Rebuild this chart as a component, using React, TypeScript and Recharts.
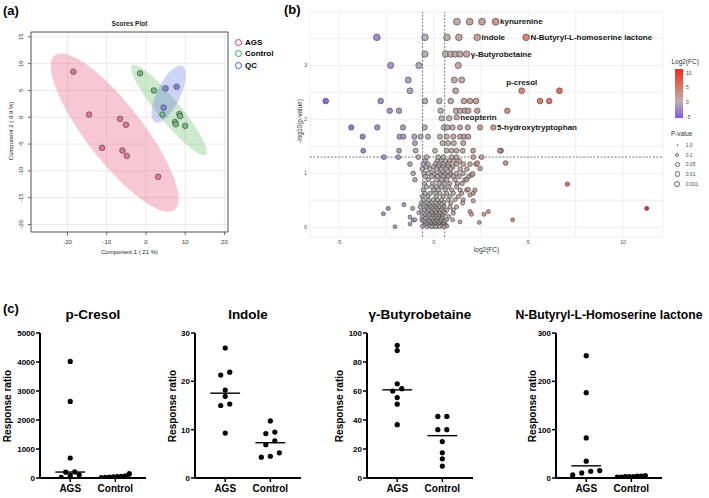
import React from 'react';
import {
  ScatterChart,
  Scatter,
  XAxis,
  YAxis,
  CartesianGrid,
  ReferenceLine,
  ReferenceArea,
} from 'recharts';

const FONT = '"Liberation Sans", Arial, Helvetica, sans-serif';

// ---------- (a) scores plot ----------
const agsScores = [[-18.5, 8.5], [-14.5, 0.5], [-6.6, -0.3], [-5.1, -1.4], [-11.2, -5.7], [-6.0, -6.2], [-4.9, -7.2], [3.1, -11.1]];
const controlScores = [[-1.5, 8.2], [2.0, 5.0], [4.2, 0.5], [8.5, 0.6], [8.7, 0.2], [7.4, -0.9], [7.6, -1.3], [10.0, -1.6]];
const qcScores = [[5.0, 5.4], [7.8, 5.7], [4.5, 1.8]];
const scoreGroups = ['AGS', 'Control', 'QC'];

// ---------- (b) volcano plot ----------
const labelNames = ['kynurenine', 'Indole', 'N-Butyryl-L-homoserine lactone', 'γ-Butyrobetaine', 'p-cresol', 'neopterin', '5-hydroxytryptophan'];
const labelFC = [3.27, 2.3, 4.88, 1.74, 4.65, 1.21, 3.15];
const labelLogP = [3.81, 3.52, 3.52, 3.21, 2.53, 2.04, 1.85];

const volcanoUpper = [
  [1.23, 3.81], [1.9, 3.81], [2.55, 3.81],
  [-3.0, 3.52], [-0.46, 3.52], [0.7, 3.52], [1.33, 3.52],
  [-0.46, 3.21], [0.63, 3.21], [0.9, 3.21], [1.14, 3.21], [1.39, 3.21],
  [-2.27, 3.0], [-0.78, 3.0], [1.3, 3.0],
  [-1.34, 2.73], [1.09, 2.73], [1.48, 2.73],
  [-1.25, 2.53], [1.16, 2.53], [6.64, 2.53],
  [-5.7, 2.34], [-2.8, 2.34], [-0.46, 2.34], [0.3, 2.34], [0.9, 2.34], [1.6, 2.34], [1.92, 2.34], [2.24, 2.34], [5.62, 2.34], [6.1, 2.34],
  [-2.32, 2.16], [-1.83, 2.16], [0.37, 2.16], [1.18, 2.16], [1.4, 2.16], [1.65, 2.16], [1.83, 2.16], [2.3, 2.16], [3.89, 2.16],
  [0.42, 2.02], [0.82, 2.02],
  [-4.35, 1.85], [-2.98, 1.85], [-1.62, 1.85], [-0.47, 1.85], [0.54, 1.85], [0.72, 1.85], [1.0, 1.85], [1.39, 1.85], [1.8, 1.85], [2.45, 1.85],
  [-3.75, 1.68], [-1.8, 1.68], [-1.6, 1.68], [-1.02, 1.68], [-0.69, 1.68], [-0.3, 1.68], [0.33, 1.68], [0.69, 1.68], [1.04, 1.68], [1.39, 1.68], [1.6, 1.68], [1.83, 1.68],
  [-0.99, 1.56], [0.47, 1.56], [0.77, 1.56], [1.07, 1.56], [1.56, 1.56],
  [-3.72, 1.42], [-1.83, 1.42], [-0.95, 1.42], [0.07, 1.42], [0.69, 1.42], [0.95, 1.42], [1.21, 1.42], [1.53, 1.42], [2.08, 1.42], [3.5, 1.42],
  [-2.63, 1.3], [-1.87, 1.3], [-0.81, 1.3], [-0.37, 1.3], [0.24, 1.3], [0.51, 1.3], [0.95, 1.3], [1.21, 1.3], [2.09, 1.3], [2.53, 1.3],
];

const volcanoLeft = [
  [-2.4, 0.35], [-2.66, 0.25], [-1.57, 0.42], [-1.11, 0.35], [-2.04, 0.01], [-1.25, 0.19], [-1.08, 0.13],
  [-1.25, 0.06], [-0.99, 0.14], [-0.78, 0.27], [-1.08, 1.0], [-1.25, 1.17], [-0.99, 0.88],
];

const volcanoRight = [
  [2.09, 0.49], [1.92, 0.29], [2.0, 0.24], [2.66, 0.24], [2.89, 0.29], [1.39, 0.1], [2.41, 0.09], [4.17, 0.14],
  [7.06, 0.8], [11.25, 0.35], [1.74, 0.69], [1.92, 0.6], [1.3, 0.57], [1.83, 0.7], [1.74, 0.88], [2.0, 0.97],
  [2.3, 1.19], [2.45, 1.09], [3.56, 1.42], [3.8, 1.19], [2.18, 0.69], [2.06, 0.99],
];

// rows of the dense core: [-log10 p, fold changes]
const volcanoCore: [number, number[]][] = [
  [1.23, [-0.45, 0.2, 0.4, 0.62, 0.85, 1.05, 1.35]],
  [1.17, [-0.55, -0.3, 0.1, 0.3, 0.51, 0.77, 1.21, 1.56, 1.92, 2.24]],
  [1.12, [-0.4, 0.0, 0.25, 0.5, 0.75, 1.0]],
  [1.08, [-0.6, -0.2, 0.15, 0.4, 0.65, 0.9, 1.4, 1.75]],
  [1.0, [-0.51, -0.28, 0.0, 0.33, 0.6, 0.9, 1.21, 1.56]],
  [0.97, [0.05, 0.38, 0.62, 0.85]],
  [0.94, [-0.45, -0.1, 0.2, 0.5, 0.75, 1.05, 1.35, 1.85]],
  [0.88, [-0.28, 0.16, 0.42, 0.69, 1.12, 1.65]],
  [0.81, [-0.5, -0.05, 0.3, 0.55, 0.85, 1.25, 1.5]],
  [0.75, [-0.37, -0.1, 0.16, 0.42, 0.77, 1.21]],
  [0.69, [-0.55, 0.0, 0.25, 0.6, 0.95, 1.4]],
  [0.63, [-0.46, -0.19, 0.07, 0.33, 0.69, 1.04, 1.48, 2.09]],
  [0.57, [-0.6, -0.3, 0.15, 0.5, 0.85]],
  [0.51, [-0.55, -0.28, -0.02, 0.2, 0.42, 0.77, 1.12, 1.56]],
  [0.45, [-0.65, -0.35, -0.1, 0.1, 0.3, 0.55, 0.9, 1.53]],
  [0.42, [-0.5, -0.2, 0.2, 0.42]],
  [0.38, [-0.72, -0.4, -0.16, 0.07, 0.3, 0.55, 0.86, 1.21]],
  [0.35, [-0.3, -0.05, 0.15, 0.45]],
  [0.32, [-0.5, -0.25, 0.0, 0.2, 0.4, 0.7, 1.04]],
  [0.29, [-0.65, -0.12, 0.1, 0.3, 0.52]],
  [0.26, [-0.37, -0.1, 0.13, 0.33, 0.6, 1.04]],
  [0.23, [-0.45, -0.2, 0.0, 0.22, 0.45]],
  [0.2, [-0.6, -0.3, -0.05, 0.1, 0.28, 0.48, 0.8]],
  [0.17, [-0.42, -0.15, 0.05, 0.22, 0.45]],
  [0.14, [-0.63, -0.28, -0.05, 0.16, 0.37, 0.69, 1.0]],
  [0.11, [-0.55, -0.3, -0.08, 0.12, 0.35, 0.58]],
  [0.09, [-0.45, -0.18, 0.05, 0.25, 0.5]],
  [0.06, [-0.38, -0.12, 0.08, 0.3, 0.52]],
  [0.04, [-0.51, -0.23, -0.02, 0.2, 0.42, 0.65]],
  [0.02, [-0.6, -0.2, 0.0, 0.2, 0.42, 0.7]],
  [0.01, [-0.35, -0.1, 0.1, 0.3, 0.55]],
];

const fcTicks = [-5, -2.5, 0, 2.5, 5, 7.5, 10];
const logPTicks = [0, 0.5, 1, 1.5, 2, 2.5, 3, 3.5];
const fcThreshold = Math.log2(1.5);
const pThreshold = -Math.log10(0.05);

// ---------- (c) dot plots ----------
const groups = ['AGS', 'Control'];
const cresolAGS = [4020, 2640, 690, 210, 200, 110, 90, 20];
const cresolControl = [150, 75, 60, 50, 40, 30, 20, 15];
const indoleAGS = [26.9, 21.9, 21.3, 18.2, 16.9, 15.3, 15.0, 9.3];
const indoleControl = [11.8, 9.5, 9.2, 7.7, 6.9, 5.2, 4.3, 4.5];
const butyroAGS = [91.5, 87.9, 65, 61.6, 60, 55.5, 50.9, 36.8];
const butyroControl = [42.5, 42.5, 33.3, 33.3, 25.1, 17.4, 13.2, 8.2];
const lactoneAGS = [253, 176.5, 83, 34.9, 15.4, 14, 10.5, 6.3];
const lactoneControl = [5, 4, 4, 3, 3, 3, 2, 2];

// ---------- helpers ----------
const Txt = ({ x, y, size, bold, align = 'center', rotate, color = '#000', children }: any) => {
  const tx = align === 'center' ? '-50%' : align === 'right' ? '-100%' : '0';
  return (
    <div
      style={{
        position: 'absolute',
        left: x,
        top: y,
        transform: `translate(${tx}, -50%)${rotate ? ` rotate(${rotate}deg)` : ''}`,
        fontSize: size,
        fontWeight: bold ? 700 : 400,
        color,
        whiteSpace: 'nowrap',
        lineHeight: 1,
      }}
    >
      {children}
    </div>
  );
};

// 95% confidence ellipse of a group of score points
function ellipse(pts: number[][], n = 80) {
  const m = pts.length;
  const mx = pts.reduce((s, p) => s + p[0], 0) / m;
  const my = pts.reduce((s, p) => s + p[1], 0) / m;
  let sxx = 0, syy = 0, sxy = 0;
  pts.forEach(([x, y]) => {
    sxx += (x - mx) ** 2;
    syy += (y - my) ** 2;
    sxy += (x - mx) * (y - my);
  });
  sxx /= m - 1; syy /= m - 1; sxy /= m - 1;
  const tr = sxx + syy, det = sxx * syy - sxy * sxy;
  const disc = Math.sqrt(Math.max(tr * tr / 4 - det, 0));
  const l1 = tr / 2 + disc, l2 = tr / 2 - disc;
  const ang = Math.atan2(l1 - sxx, sxy);
  const k = Math.sqrt(5.991);
  const a = k * Math.sqrt(l1), b = k * Math.sqrt(Math.max(l2, 0));
  return Array.from({ length: n }, (_, i) => {
    const t = (2 * Math.PI * i) / n;
    const ex = a * Math.cos(t), ey = b * Math.sin(t);
    return { x: mx + ex * Math.cos(ang) - ey * Math.sin(ang), y: my + ex * Math.sin(ang) + ey * Math.cos(ang) };
  });
}

const ellipsePath = (fill: string, opacity: number) => (p: any) => {
  const pts = p.points || [];
  const d = pts.map((q: any, i: number) => `${i ? 'L' : 'M'}${q.x},${q.y}`).join('') + 'Z';
  return <path d={d} fill={fill} fillOpacity={opacity} stroke="none" />;
};

const noShape = () => <g />;

const scoreDot = (fill: string) => (p: any) => (
  <circle cx={p.cx} cy={p.cy} r={2.8} fill={fill} stroke="#3c3c3c" strokeWidth={0.6} />
);

const FC_STOPS: [number, number[]][] = [
  [-6, [118, 84, 230]],
  [0, [180, 174, 174]],
  [5, [220, 118, 100]],
  [10, [230, 52, 34]],
  [12, [190, 20, 20]],
];

function fcColor(v: number) {
  const s = FC_STOPS;
  if (v <= s[0][0]) return `rgb(${s[0][1].join(',')})`;
  for (let i = 1; i < s.length; i++) {
    if (v <= s[i][0]) {
      const t = (v - s[i - 1][0]) / (s[i][0] - s[i - 1][0]);
      const c = s[i - 1][1].map((a, j) => Math.round(a + (s[i][1][j] - a) * t));
      return `rgb(${c.join(',')})`;
    }
  }
  return `rgb(${s[s.length - 1][1].join(',')})`;
}

const pRadius = (logP: number) => 1.9 + 0.4 * logP;

const volcanoDot = (p: any) => {
  const v = p.payload;
  return <circle cx={p.cx} cy={p.cy} r={pRadius(v.y)} fill={fcColor(v.x)} fillOpacity={0.9} stroke="#3a3a3a" strokeWidth={0.6} />;
};

const labelAbove = ['p-cresol'];
const labeledDot = (p: any) => {
  const v = p.payload;
  const r = pRadius(v.y);
  const above = labelAbove.includes(v.name);
  return (
    <g>
      <circle cx={p.cx} cy={p.cy} r={r} fill={fcColor(v.x)} fillOpacity={0.9} stroke="#3a3a3a" strokeWidth={0.6} />
      <text
        x={above ? p.cx : p.cx + r + 1}
        y={above ? p.cy - 8 : p.cy}
        textAnchor={above ? 'middle' : 'start'}
        dominantBaseline="central"
        fontSize={8}
        fontWeight={700}
        fill="#151515"
      >
        {v.name}
      </text>
    </g>
  );
};

const rotTick = (p: any) => (
  <text x={p.x - 1} y={p.y} transform={`rotate(-90 ${p.x - 1} ${p.y})`} textAnchor="middle" fontSize={6} fill="#333">
    {p.payload.value}
  </text>
);

function median(v: number[]) {
  const s = [...v].sort((a, b) => a - b);
  const h = Math.floor(s.length / 2);
  return s.length % 2 ? s[h] : (s[h - 1] + s[h]) / 2;
}

// GraphPad-like row layout: values closer than `gap` px share a row and are centred
function swarm(values: number[], pxPerVal: number, gap: number, step: number, maxSpan: number) {
  const order = values.map((_, i) => i).sort((a, b) => values[a] - values[b]);
  const off = new Array(values.length).fill(0);
  let row: number[] = [];
  const flush = () => {
    const s = row.length > 1 ? Math.min(step, maxSpan / (row.length - 1)) : 0;
    row.forEach((idx, j) => { off[idx] = (j - (row.length - 1) / 2) * s; });
    row = [];
  };
  order.forEach((i) => {
    if (row.length && (values[i] - values[row[0]]) * pxPerVal >= gap) flush();
    row.push(i);
  });
  flush();
  return off;
}

// ---------- panels ----------
const ScoresPlot = () => {
  const toXY = (a: number[][]) => a.map(([x, y]) => ({ x, y }));
  return (
    <div style={{ position: 'absolute', left: 0, top: 0 }}>
      <ScatterChart width={240} height={260} margin={{ top: 32, right: 12, bottom: 0, left: 0 }}>
        <CartesianGrid stroke="#e4e4e4" strokeWidth={0.8} />
        <XAxis
          type="number"
          dataKey="x"
          domain={[-29.3, 20.9]}
          ticks={[-20, -10, 0, 10, 20]}
          allowDataOverflow
          height={28}
          axisLine={false}
          tickLine={{ stroke: '#666' }}
          tickSize={3}
          tickMargin={5}
          tick={{ fontSize: 6, fill: '#333' }}
        />
        <YAxis
          type="number"
          dataKey="y"
          domain={[-21.4, 15.9]}
          ticks={[-20, -15, -10, -5, 0, 5, 10, 15]}
          allowDataOverflow
          width={31}
          axisLine={false}
          tickLine={{ stroke: '#666' }}
          tickSize={3}
          tickMargin={4}
          tick={rotTick}
        />
        <Scatter data={ellipse(agsScores)} line={ellipsePath('#E8507A', 0.32)} shape={noShape} isAnimationActive={false} />
        <Scatter data={ellipse(controlScores)} line={ellipsePath('#4CAF50', 0.28)} shape={noShape} isAnimationActive={false} />
        <Scatter data={ellipse(qcScores)} line={ellipsePath('#5A6FE0', 0.3)} shape={noShape} isAnimationActive={false} />
        <Scatter data={toXY(agsScores)} shape={scoreDot('#E27492')} isAnimationActive={false} />
        <Scatter data={toXY(controlScores)} shape={scoreDot('#6DBE7C')} isAnimationActive={false} />
        <Scatter data={toXY(qcScores)} shape={scoreDot('#7A8AD8')} isAnimationActive={false} />
        <ReferenceArea x1={-29.3} x2={20.9} y1={-21.4} y2={15.9} fill="none" stroke="#5a5a5a" strokeWidth={1} />
      </ScatterChart>
    </div>
  );
};

const VolcanoPlot = () => {
  const toXY = (a: number[][]) => a.map(([x, y]) => ({ x, y }));
  const core = volcanoCore.flatMap(([y, xs]) => xs.map((x) => ({ x, y })));
  const all = [...core, ...toXY(volcanoLeft), ...toXY(volcanoRight), ...toXY(volcanoUpper)];
  const labeled = labelNames.map((name, i) => ({ name, x: labelFC[i], y: labelLogP[i] }));
  return (
    <div style={{ position: 'absolute', left: 280, top: 0 }}>
      <ScatterChart width={390} height={260} margin={{ top: 12, right: 7, bottom: 0, left: 0 }}>
        <CartesianGrid stroke="#ebebeb" strokeWidth={0.8} />
        <XAxis
          type="number"
          dataKey="x"
          domain={[-6.53, 12.11]}
          ticks={fcTicks}
          tickFormatter={(v: number) => (v % 5 === 0 ? String(v) : '')}
          allowDataOverflow
          height={23}
          axisLine={false}
          tickLine={false}
          tickSize={2}
          tickMargin={1}
          tick={{ fontSize: 5.5, fill: '#555' }}
        />
        <YAxis
          type="number"
          dataKey="y"
          domain={[-0.18, 3.99]}
          ticks={logPTicks}
          tickFormatter={(v: number) => (v % 1 === 0 ? String(v) : '')}
          allowDataOverflow
          width={30}
          axisLine={false}
          tickLine={false}
          tickSize={2}
          tickMargin={1}
          tick={{ fontSize: 5.5, fill: '#555' }}
        />
        <ReferenceLine x={-fcThreshold} stroke="#555" strokeDasharray="2 1.5" strokeWidth={0.8} />
        <ReferenceLine x={fcThreshold} stroke="#555" strokeDasharray="2 1.5" strokeWidth={0.8} />
        <ReferenceLine y={pThreshold} stroke="#555" strokeDasharray="2 1.5" strokeWidth={0.8} />
        <Scatter data={all} shape={volcanoDot} isAnimationActive={false} />
        <Scatter data={labeled} shape={labeledDot} isAnimationActive={false} />
      </ScatterChart>
    </div>
  );
};

const DotPlot = ({ left, title, titleSize = 13.5, ags, control, yMax, ticks, labelGap }: any) => {
  const plotW = 106, plotH = 145;
  const xDom = [0.33, 2.68];
  const pxPerCat = plotW / (xDom[1] - xDom[0]);
  const pxPerVal = plotH / yMax;
  const place = (vals: number[], c: number) => {
    const off = swarm(vals, pxPerVal, 5, 9, 28);
    return vals.map((v, i) => ({ x: c + off[i] / pxPerCat, y: v }));
  };
  const pts = [...place(ags, 1), ...place(control, 2)];
  const mA = median(ags), mC = median(control);
  return (
    <div style={{ position: 'absolute', left, top: 300, width: 150, height: 198 }}>
      <ScatterChart width={150} height={198} margin={{ top: 33, right: 4, bottom: 0, left: 0 }}>
        <XAxis
          type="number"
          dataKey="x"
          domain={xDom}
          ticks={[1, 2]}
          tickFormatter={(v: number) => groups[v - 1]}
          allowDataOverflow
          height={20}
          axisLine={{ stroke: '#000', strokeWidth: 2 }}
          tickLine={{ stroke: '#000', strokeWidth: 1.5 }}
          tickSize={4}
          tickMargin={3}
          tick={{ fontSize: 10, fontWeight: 700, fill: '#000' }}
        />
        <YAxis
          type="number"
          dataKey="y"
          domain={[0, yMax]}
          ticks={ticks}
          allowDataOverflow
          width={40}
          axisLine={{ stroke: '#000', strokeWidth: 2 }}
          tickLine={{ stroke: '#000', strokeWidth: 1.5 }}
          tickSize={4}
          tickMargin={1}
          tick={{ fontSize: 8, fontWeight: 700, fill: '#000' }}
        />
        <Scatter data={pts} shape={(p: any) => <circle cx={p.cx} cy={p.cy} r={2.6} fill="#000" />} isAnimationActive={false} />
        <ReferenceLine segment={[{ x: 0.67, y: mA }, { x: 1.33, y: mA }]} stroke="#000" strokeWidth={1.4} />
        <ReferenceLine segment={[{ x: 1.67, y: mC }, { x: 2.33, y: mC }]} stroke="#000" strokeWidth={1.4} />
      </ScatterChart>
      <Txt x={40 + plotW / 2} y={15} size={titleSize} bold>{title}</Txt>
      <Txt x={40 - labelGap} y={33 + plotH / 2} size={10} bold rotate={-90}>Response ratio</Txt>
    </div>
  );
};

const legendColors = ['#E0304F', '#2EAA50', '#3060C8'];
const pLegend = ['1.0', '0.1', '0.05', '0.01', '0.001'];
const pLegendR = [0.8, 2.0, 2.3, 2.7, 3.2];
const pLegendY = [145, 154.5, 164.3, 174, 184.3];
const fcLegend = [10, 5, 0, -5];
const fcLegendY = [73.3, 87.3, 101.7, 116.7];

export default function App() {
  return (
    <div style={{ position: 'absolute', left: 0, top: 0, width: 709, height: 498, background: '#fff', fontFamily: FONT, overflow: 'hidden' }}>
      <Txt x={3} y={10} size={13} bold align="left">(a)</Txt>
      <Txt x={284} y={9} size={13} bold align="left">(b)</Txt>
      <Txt x={3} y={308} size={13} bold align="left">(c)</Txt>

      <ScoresPlot />
      <Txt x={129.5} y={24} size={6.5} bold color="#222">Scores Plot</Txt>
      <Txt x={129.5} y={252} size={6} color="#222">Component 1 ( 21 %)</Txt>
      <Txt x={11} y={131} size={6} color="#222" rotate={-90}>Component 2 ( 9.9 %)</Txt>
      {scoreGroups.map((g, i) => (
        <div key={g}>
          <div style={{ position: 'absolute', left: 235, top: 38.7 + i * 11.5, width: 5, height: 5, borderRadius: '50%', border: `1.6px solid ${legendColors[i]}` }} />
          <Txt x={245} y={42.7 + i * 11.5} size={8} bold align="left">{g}</Txt>
        </div>
      ))}

      <VolcanoPlot />
      <Txt x={486.5} y={250} size={6.5} color="#333">log2(FC)</Txt>
      <Txt x={300} y={121} size={6.5} color="#333" rotate={-90}>-log10(p-value)</Txt>
      <Txt x={671.5} y={62.3} size={6.5} align="left" color="#333">Log2(FC)</Txt>
      <div
        style={{
          position: 'absolute', left: 675, top: 69, width: 8, height: 49,
          background: 'linear-gradient(to bottom, rgb(240,40,24) 0%, rgb(222,116,98) 36%, rgb(190,174,176) 66%, rgb(125,92,228) 100%)',
        }}
      />
      {fcLegend.map((v, i) => (
        <Txt key={v} x={686} y={fcLegendY[i]} size={5} align="left" color="#444">{v}</Txt>
      ))}
      <Txt x={671} y={134.3} size={6.3} align="left" color="#333">P-value</Txt>
      {pLegend.map((v, i) => (
        <div key={v}>
          <div
            style={{
              position: 'absolute', left: 677.3 - pLegendR[i], top: pLegendY[i] - pLegendR[i],
              width: pLegendR[i] * 2, height: pLegendR[i] * 2, borderRadius: '50%', boxSizing: 'border-box',
              border: i === 0 ? 'none' : '0.6px solid #666', background: i === 0 ? '#666' : '#fff',
            }}
          />
          <Txt x={685.7} y={pLegendY[i]} size={5} align="left" color="#444">{v}</Txt>
        </div>
      ))}

      <DotPlot left={0} title="p-Cresol" ags={cresolAGS} control={cresolControl} yMax={5000} ticks={[0, 1000, 2000, 3000, 4000, 5000]} labelGap={32.5} />
      <DotPlot left={155} title="Indole" ags={indoleAGS} control={indoleControl} yMax={30} ticks={[0, 10, 20, 30]} labelGap={22} />
      <DotPlot left={327} title="γ-Butyrobetaine" ags={butyroAGS} control={butyroControl} yMax={100} ticks={[0, 20, 40, 60, 80, 100]} labelGap={27} />
      <DotPlot left={516} title="N-Butyryl-L-Homoserine lactone" titleSize={12.2} ags={lactoneAGS} control={lactoneControl} yMax={300} ticks={[0, 100, 200, 300]} labelGap={23} />
    </div>
  );
}
